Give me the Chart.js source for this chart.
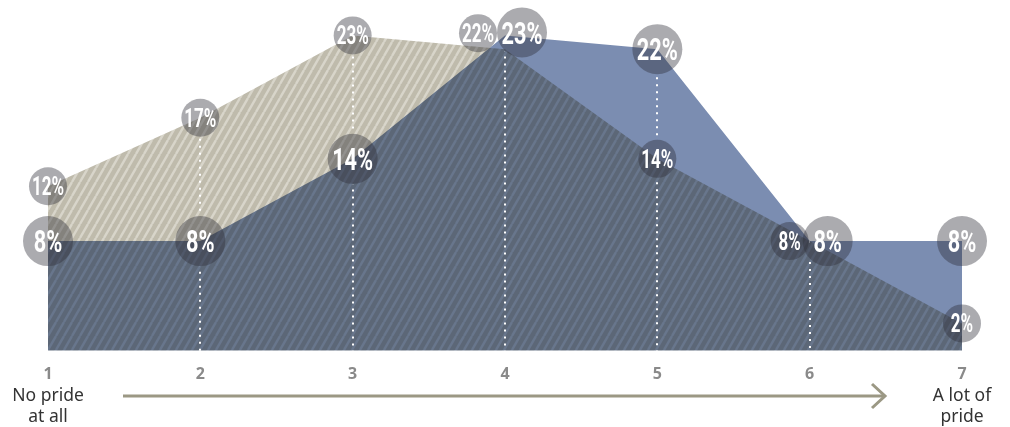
<!DOCTYPE html>
<html>
<head>
<meta charset="utf-8">
<script src="https://cdn.jsdelivr.net/npm/chart.js@4.4.1/dist/chart.umd.min.js"></script>
<style>
  html, body { margin: 0; padding: 0; background: #ffffff; }
  canvas { display: block; }
</style>
</head>
<body>
<canvas id="prideChart" width="1010" height="427"></canvas>
<script>
// Scale points and the share (%) of answers for each group
const levels = ['1', '2', '3', '4', '5', '6', '7'];
const sharesTan = [12, 17, 23, 22, 14, 8, 2];
const sharesBlue = [8, 8, 14, 23, 22, 8, 8];
const endLabels = [['No pride', 'at all'], ['A lot of', 'pride']];

// Diagonal stripes for the tan area
function makeHatch(base, stripe) {
    const w = 8, h = 14;
    const tile = document.createElement('canvas');
    tile.width = w;
    tile.height = h;
    const t = tile.getContext('2d');
    t.fillStyle = base;
    t.fillRect(0, 0, w, h);
    t.strokeStyle = stripe;
    t.lineWidth = 2.4;
    t.beginPath();
    for (const dx of [-w, 0, w]) {
        t.moveTo(dx, h);
        t.lineTo(dx + w, 0);
    }
    t.stroke();
    return t.createPattern(tile, 'repeat');
}

const ctx = document.getElementById('prideChart').getContext('2d');

// Label bubbles that would sit on top of each other get pushed aside
const nudge = [
    { 3: [-27, -16], 5: [-20, 0] },
    { 3: [17, -3], 5: [18, 0] }
];
const bubble = [
    { r: 19, size: 25 },
    { r: 25, size: 32 }
];

const overlayPlugin = {
    id: 'overlay',
    // both areas are multiplied so the overlap turns dark
    beforeDatasetsDraw(chart) {
        chart.ctx.save();
        chart.ctx.globalCompositeOperation = 'multiply';
    },
    afterDatasetsDraw(chart) {
        const c = chart.ctx;
        c.restore();

        const xs = chart.scales.x;
        const ys = chart.scales.y;
        const area = chart.chartArea;

        // collect bubble positions
        const spots = [];
        chart.data.datasets.forEach((ds, di) => {
            ds.data.forEach((v, i) => {
                const off = nudge[di][i] || [0, 0];
                spots.push({
                    x: xs.getPixelForValue(i) + off[0],
                    y: ys.getPixelForValue(v) + off[1],
                    r: bubble[di].r,
                    size: bubble[di].size,
                    text: v + '%'
                });
            });
        });

        // dotted guides, kept out of the bubbles
        c.save();
        c.beginPath();
        c.rect(0, 0, chart.width, chart.height);
        spots.forEach(s => {
            c.moveTo(s.x + s.r + 1, s.y);
            c.arc(s.x, s.y, s.r + 1, 0, Math.PI * 2);
        });
        c.clip('evenodd');
        c.strokeStyle = '#ffffff';
        c.lineWidth = 2;
        c.setLineDash([2, 5]);
        for (let i = 1; i < levels.length - 1; i++) {
            const x = Math.round(xs.getPixelForValue(i));
            const top = ys.getPixelForValue(Math.max(sharesTan[i], sharesBlue[i]));
            c.beginPath();
            c.moveTo(x, top);
            c.lineTo(x, area.bottom);
            c.stroke();
        }
        c.restore();

        // bubbles with white percentages
        spots.forEach(s => {
            c.save();
            c.fillStyle = 'rgba(45, 45, 55, 0.4)';
            c.beginPath();
            c.arc(s.x, s.y, s.r, 0, Math.PI * 2);
            c.fill();
            c.translate(s.x, s.y + s.size * 0.355);
            c.scale(0.68, 1);
            c.fillStyle = '#ffffff';
            c.font = 'bold ' + s.size + 'px Roboto';
            c.textAlign = 'center';
            c.textBaseline = 'alphabetic';
            c.fillText(s.text, 0, 0);
            c.restore();
        });
    },
    afterDraw(chart) {
        const c = chart.ctx;
        const xs = chart.scales.x;
        const first = xs.getPixelForValue(0);
        const last = xs.getPixelForValue(levels.length - 1);

        // end descriptions
        c.save();
        c.fillStyle = '#333333';
        c.font = '17.5px "Noto Sans"';
        c.textAlign = 'center';
        c.textBaseline = 'alphabetic';
        [first, last].forEach((x, k) => {
            c.fillText(endLabels[k][0], x, 401);
            c.fillText(endLabels[k][1], x, 422);
        });

        // arrow along the scale
        const y = 396;
        const x0 = first + 75, x1 = last - 77;
        c.strokeStyle = '#9b9884';
        c.lineWidth = 3;
        c.beginPath();
        c.moveTo(x0, y);
        c.lineTo(x1 - 1, y);
        c.stroke();
        c.beginPath();
        c.moveTo(x1 - 13, y - 12);
        c.lineTo(x1, y);
        c.lineTo(x1 - 13, y + 12);
        c.stroke();
        c.restore();
    }
};

const prideChart = new Chart(ctx, {
    type: 'line',
    data: {
        labels: levels,
        datasets: [{
            label: 'tan',
            data: sharesTan,
            fill: 'origin',
            backgroundColor: makeHatch('#bfbbac', '#d8d5ca'),
            borderWidth: 0,
            pointRadius: 0,
            tension: 0
        },
        {
            label: 'blue',
            data: sharesBlue,
            fill: 'origin',
            backgroundColor: '#7b8db1',
            borderWidth: 0,
            pointRadius: 0,
            tension: 0
        }]
    },
    options: {
        responsive: false,
        animation: false,
        devicePixelRatio: 1,
        layout: {
            padding: { left: 48, right: 48, top: 8, bottom: 29 }
        },
        plugins: {
            legend: { display: false },
            tooltip: { enabled: false }
        },
        scales: {
            x: {
                offset: false,
                grid: { display: false, drawTicks: false },
                border: { display: false },
                ticks: {
                    color: '#8a8a8a',
                    font: { family: 'Noto Sans', weight: 'bold', size: 16 },
                    padding: 14,
                    maxRotation: 0,
                    autoSkip: false
                }
            },
            y: {
                display: false,
                min: 0,
                max: 25
            }
        }
    },
    plugins: [overlayPlugin]
});
</script>
</body>
</html>
